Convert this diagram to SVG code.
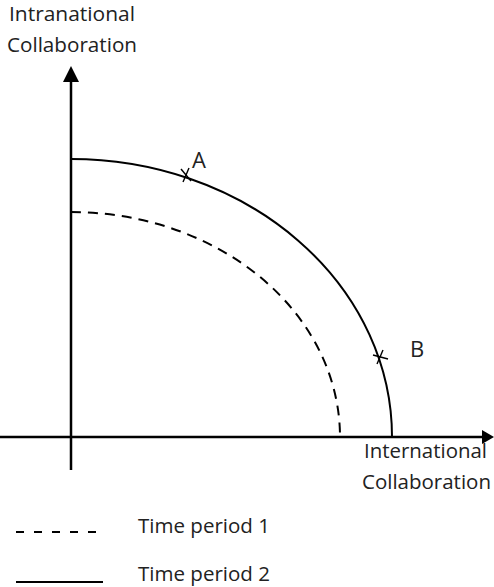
<svg xmlns="http://www.w3.org/2000/svg" width="494" height="587" viewBox="0 0 494 587">
<style>
.t{font-family:"Open Sans","Liberation Sans",sans-serif;font-size:20px;fill:#222}
.L{font-family:"Open Sans","Liberation Sans",sans-serif;font-size:22px;fill:#222}
.ax{stroke:#000;stroke-width:2.5;fill:none}
.c{stroke:#000;stroke-width:2;fill:none}
.d{stroke:#000;stroke-width:2;fill:none;stroke-dasharray:10 7}
.tk{stroke:#000;stroke-width:1.4}
</style>
<g id="connectors">
<g id="y-axis">
<line class="ax" x1="71" y1="80" x2="71" y2="470"/>
<polygon points="71,66 63,82 79,82" fill="#000"/>
</g>
<g id="x-axis">
<line class="ax" x1="0" y1="437" x2="484" y2="437"/>
<polygon points="494,437 482,430 482,444" fill="#000"/>
</g>
<g id="period2-curve">
<path class="c" d="M71,159 A321,278 0 0 1 392,437"/>
</g>
<g id="period1-curve">
<path class="d" d="M71,212 A269,225 0 0 1 340,437"/>
</g>
</g>
<g id="axis-labels">
<text class="t" x="9" y="21" textLength="126" lengthAdjust="spacingAndGlyphs">Intranational</text>
<text class="t" x="7" y="52" textLength="130" lengthAdjust="spacingAndGlyphs">Collaboration</text>
<text class="t" x="364" y="458" textLength="123" lengthAdjust="spacingAndGlyphs">International</text>
<text class="t" x="362" y="489" textLength="129" lengthAdjust="spacingAndGlyphs">Collaboration</text>
</g>
<g id="point-A">
<line class="tk" x1="181" y1="169" x2="191" y2="181"/>
<line class="tk" x1="183" y1="182" x2="189" y2="168"/>
<text class="L" x="192" y="168">A</text>
</g>
<g id="point-B">
<line class="tk" x1="373" y1="355" x2="388" y2="359"/>
<line class="tk" x1="377" y1="364" x2="383" y2="350"/>
<text class="L" x="410" y="357">B</text>
</g>
<g id="legend">
<line class="d" x1="16" y1="532" x2="98" y2="532" style="stroke-dasharray:8 10"/>
<text class="t" x="138" y="533" textLength="132" lengthAdjust="spacingAndGlyphs">Time period 1</text>
<line class="c" x1="16" y1="582" x2="103" y2="582"/>
<text class="t" x="138" y="581" textLength="132" lengthAdjust="spacingAndGlyphs">Time period 2</text>
</g>
</svg>
